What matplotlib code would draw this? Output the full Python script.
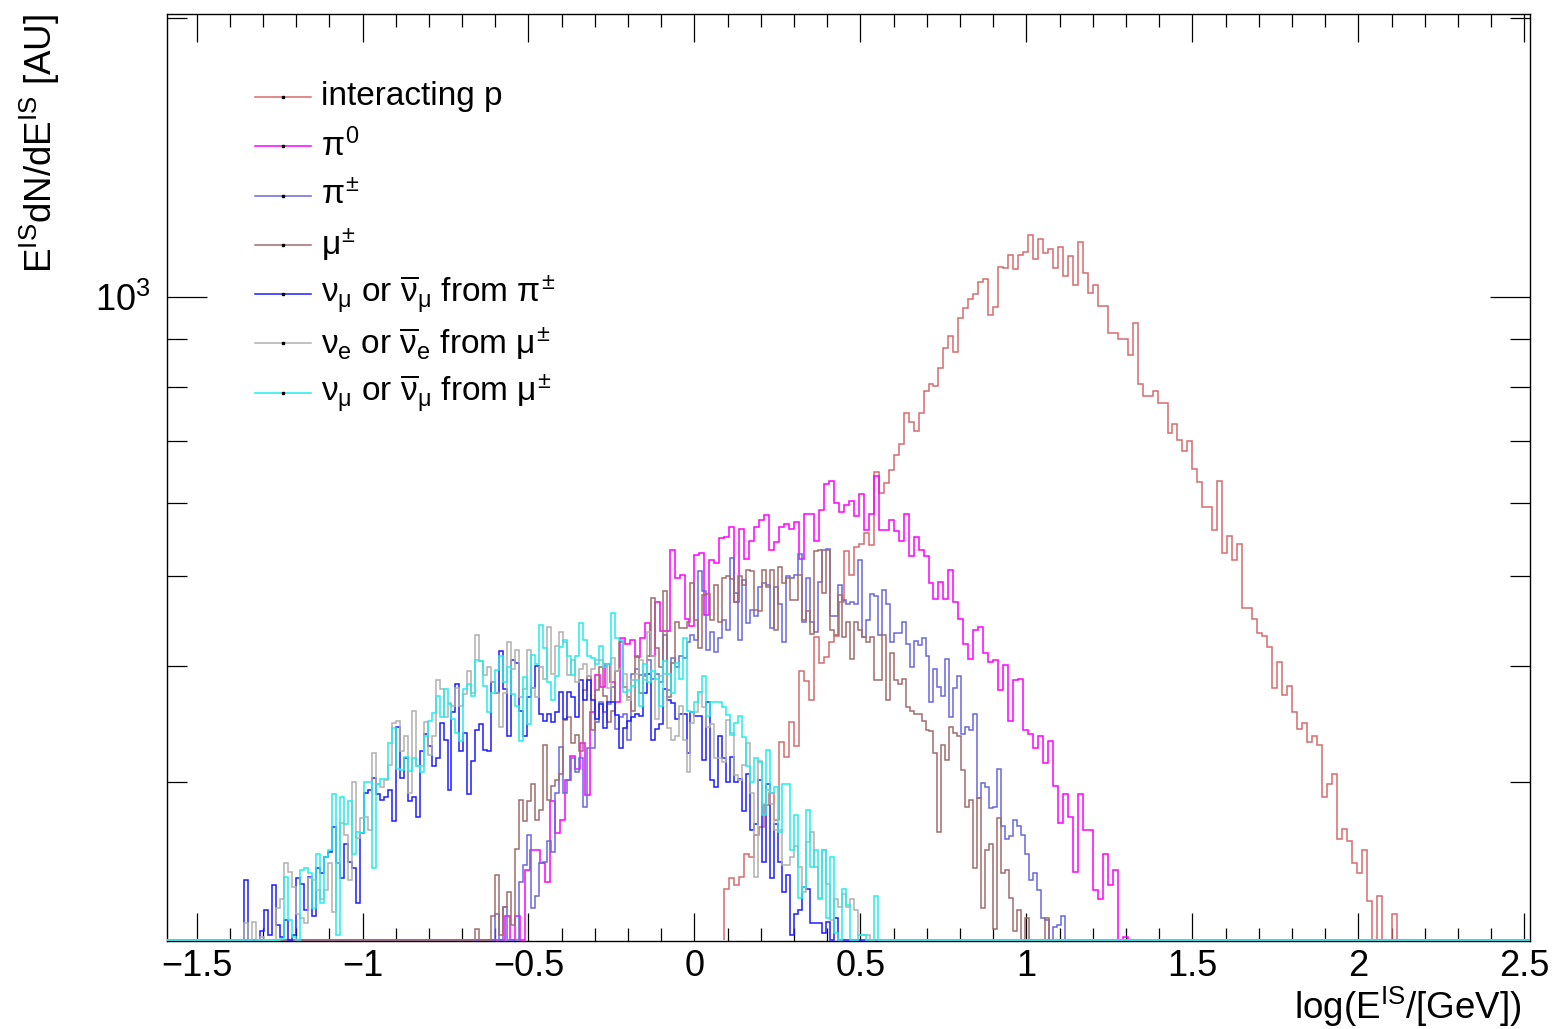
import numpy as np
import matplotlib.pyplot as plt
from matplotlib.ticker import MultipleLocator, LogLocator, NullFormatter, FuncFormatter
from matplotlib.lines import Line2D

plt.rcParams['font.family'] = ['Liberation Sans', 'DejaVu Sans']
plt.rcParams['mathtext.fontset'] = 'custom'
plt.rcParams['mathtext.rm'] = 'Liberation Sans'
plt.rcParams['mathtext.it'] = 'Liberation Sans'
plt.rcParams['mathtext.bf'] = 'Liberation Sans:bold'

# bin widths in log10(E/GeV)
w_wide = 0.015    # interacting p, pi0
w_narrow = 0.012  # pi+-, mu+- and neutrinos

# low edge of the first filled bin of each histogram
p_lo = 0.09
pi0_lo = -0.57
pic_lo = -0.60
mu_lo = -0.66
numu_pi_lo = -1.356
nue_lo = -1.356
numu_mu_lo = -1.248

p_vals = [230, 236, 232, 237, 251, 249, 263, 268, 283, 292, 273, 331, 319, 348, 328, 395, 385, 368,
          430, 403, 409, 425, 431, 469, 532, 502, 538, 542, 557, 540, 647, 615, 630, 650, 676, 694,
          750, 733, 717, 750, 792, 806, 802, 838, 881, 908, 873, 950, 973, 995, 1007, 1038, 1046, 956,
          975, 1078, 1075, 1110, 1072, 1110, 1118, 1166, 1099, 1155, 1116, 1127, 1075, 1132, 1054, 1107,
          1030, 1146, 1062, 1010, 1030, 978, 977, 914, 914, 900, 902, 865, 938, 806, 783, 783, 791, 768,
          768, 713, 729, 701, 683, 699, 653, 632, 593, 593, 561, 633, 530, 553, 521, 542, 462, 462, 450,
          434, 431, 419, 379, 404, 372, 381, 357, 342, 347, 331, 336, 329, 289, 298, 306, 260, 267, 259,
          245, 239, 253, 223, 0, 226, 0, 0, 216]

pi0_vals = [215, 0, 215, 0, 241, 253, 253, 245, 234, 286, 264, 273, 301, 320, 310, 330, 290, 357,
            391, 380, 402, 384, 366, 429, 422, 427, 409, 429, 445, 410, 469, 436, 436, 534, 498, 502,
            449, 442, 527, 529, 454, 521, 516, 549, 551, 565, 469, 562, 522, 546, 565, 575, 582, 534,
            544, 565, 569, 562, 572, 522, 584, 584, 546, 589, 629, 633, 600, 587, 596, 603, 580, 613,
            561, 583, 641, 560, 561, 575, 559, 545, 583, 525, 551, 534, 525, 491, 472, 493, 472, 508,
            469, 449, 422, 407, 437, 441, 413, 404, 406, 377, 401, 349, 386, 387, 341, 338, 326, 336,
            314, 332, 297, 271, 291, 275, 240, 291, 266, 266, 229, 224, 251, 232, 241, 0, 204]

pic_vals = [216, 0, 220, 0, 0, 0, 234, 244, 263, 219, 226, 245, 246, 259, 252, 292, 327, 292, 301,
            318, 307, 318, 282, 326, 326, 348, 366, 357, 364, 380, 342, 352, 355, 333, 392, 397, 391,
            392, 406, 387, 392, 384, 432, 377, 408, 399, 410, 408, 424, 432, 427, 506, 482, 416, 435,
            414, 429, 448, 437, 523, 480, 427, 495, 445, 460, 453, 487, 491, 489, 440, 487, 466, 424,
            500, 498, 502, 528, 446, 498, 446, 435, 493, 534, 535, 453, 453, 489, 471, 466, 469, 466,
            521, 430, 448, 478, 476, 432, 483, 466, 425, 434, 434, 446, 422, 399, 426, 421, 429, 410,
            366, 397, 380, 371, 407, 352, 379, 390, 338, 344, 341, 355, 288, 299, 296, 281, 282, 310,
            269, 260, 262, 273, 269, 263, 251, 235, 239, 229, 214, 213, 0, 209, 210, 215]

mu_vals = [208, 0, 0, 0, 215, 238, 205, 220, 228, 210, 254, 287, 272, 286, 298, 273, 280, 329, 287,
           297, 301, 306, 350, 352, 330, 337, 324, 377, 390, 341, 377, 399, 371, 348, 358, 395, 424,
           380, 370, 358, 410, 374, 390, 410, 474, 418, 399, 482, 370, 403, 446, 439, 440, 446, 491,
           448, 418, 477, 478, 448, 489, 446, 498, 500, 496, 469, 500, 489, 508, 506, 460, 458, 508,
           487, 508, 437, 512, 491, 498, 471, 471, 502, 448, 458, 433, 532, 534, 480, 534, 437, 432,
           477, 430, 446, 407, 446, 437, 430, 424, 430, 386, 386, 432, 368, 413, 386, 382, 387, 361,
           358, 355, 355, 349, 341, 340, 322, 265, 329, 317, 344, 339, 336, 309, 282, 287, 242, 288,
           219, 253, 257, 208, 274, 239, 241, 225, 207, 218, 0, 214, 0, 0, 0, 0, 214]

numu_pi_vals = [235, 0, 0, 0, 207, 218, 205, 232, 210, 204, 213, 0, 205, 236, 233, 218, 237, 215,
                242, 239, 249, 252, 268, 245, 236, 257, 246, 242, 222, 264, 292, 294, 303, 291, 287,
                289, 294, 272, 344, 303, 318, 286, 289, 275, 324, 338, 328, 312, 318, 347, 333, 294,
                357, 382, 324, 339, 291, 316, 341, 346, 325, 324, 384, 374, 415, 378, 336, 406, 403,
                358, 336, 370, 379, 400, 355, 349, 355, 348, 357, 375, 351, 375, 370, 352, 386, 368,
                386, 368, 351, 364, 343, 366, 366, 354, 326, 343, 349, 352, 355, 353, 374, 392, 333,
                342, 346, 378, 368, 365, 351, 355, 355, 322, 357, 353, 353, 317, 366, 301, 296, 336,
                318, 300, 319, 300, 302, 279, 306, 266, 270, 301, 246, 298, 236, 270, 246, 228, 238,
                205, 216, 218, 231, 230, 211, 211, 211, 206, 212, 0, 214]

nue_vals = [211, 0, 212, 0, 204, 0, 0, 0, 219, 224, 245, 240, 231, 216, 214, 211, 236, 235, 229,
            224, 229, 245, 217, 245, 271, 263, 235, 300, 261, 274, 275, 266, 322, 298, 296, 301, 313,
            347, 349, 324, 336, 292, 358, 312, 312, 348, 321, 336, 386, 378, 352, 365, 362, 379, 362,
            373, 395, 374, 432, 405, 391, 399, 384, 374, 344, 374, 424, 397, 416, 370, 378, 416, 379,
            370, 399, 387, 441, 392, 420, 435, 424, 391, 406, 384, 397, 402, 390, 397, 406, 406, 402,
            379, 408, 395, 397, 392, 368, 386, 392, 406, 386, 435, 410, 351, 390, 392, 343, 333, 336,
            362, 333, 307, 347, 357, 375, 361, 344, 346, 318, 318, 315, 350, 339, 305, 301, 313, 330,
            292, 237, 316, 284, 294, 284, 266, 266, 244, 244, 249, 256, 243, 228, 258, 265, 243, 225,
            253, 233, 213, 224, 220, 227, 220, 224, 218, 205, 205, 205]

numu_mu_vals = [203, 237, 213, 204, 0, 241, 242, 239, 219, 251, 222, 249, 253, 291, 205, 289, 270,
                286, 251, 265, 264, 300, 300, 242, 298, 302, 302, 330, 343, 310, 309, 319, 308, 318,
                312, 307, 336, 349, 356, 371, 352, 378, 364, 351, 339, 332, 378, 382, 371, 406, 405,
                381, 357, 374, 396, 410, 384, 399, 373, 362, 332, 389, 346, 411, 402, 443, 418, 384,
                368, 390, 419, 427, 410, 391, 410, 445, 427, 410, 408, 402, 420, 399, 402, 456, 429,
                427, 375, 377, 381, 386, 362, 402, 384, 395, 387, 362, 405, 392, 374, 403, 387, 429,
                358, 357, 366, 375, 390, 353, 366, 366, 366, 361, 354, 337, 347, 353, 335, 312, 300,
                318, 315, 276, 325, 292, 296, 265, 298, 298, 253, 276, 225, 231, 280, 243, 253, 224,
                253, 214, 249, 206, 0, 230, 221, 0, 0, 205, 205, 0, 0, 226]

labels = ['interacting p', r'$\pi^{0}$', r'$\pi^{\pm}$', r'$\mu^{\pm}$',
          r'$\nu_{\mu}$ or $\overline{\nu}_{\mu}$ from $\pi^{\pm}$',
          r'$\nu_{e}$ or $\overline{\nu}_{e}$ from $\mu^{\pm}$',
          r'$\nu_{\mu}$ or $\overline{\nu}_{\mu}$ from $\mu^{\pm}$']
colors = ['#d46c6c', '#ff00ff', '#6868e0', '#a06c6c', '#1c1cff', '#b0b0b0', '#22eeee']

xmin, xmax = -1.589, 2.517
ymin, ymax = 202, 2020

W, H = 1552, 1029
fig = plt.figure(figsize=(W / 100, H / 100), dpi=100)
ax = fig.add_axes([167 / W, 1 - 941 / H, (1530 - 167) / W, (941 - 14) / H])

# empty bins are drawn on the frame floor, like ROOT does
floor = ymin * 10 ** (1.0 / 927)


def draw_hist(lo, width, vals, color, pad_left=True):
    vals = np.asarray(vals, float)
    nl = int(np.ceil((lo - xmin) / width)) + 1 if pad_left else 0
    nr = int(np.ceil((xmax - (lo + width * len(vals))) / width)) + 1
    full = np.concatenate([np.zeros(nl), vals, np.zeros(nr)])
    edges = lo - nl * width + width * np.arange(len(full) + 1)
    # with no left padding, close the first bin down to the floor
    ax.stairs(np.maximum(full, floor), edges, baseline=None if pad_left else floor,
              color=color, lw=1.1, zorder=3)


series = [(p_lo, w_wide, p_vals), (pi0_lo, w_wide, pi0_vals), (pic_lo, w_narrow, pic_vals),
          (mu_lo, w_narrow, mu_vals), (numu_pi_lo, w_narrow, numu_pi_vals),
          (nue_lo, w_narrow, nue_vals), (numu_mu_lo, w_narrow, numu_mu_vals)]
for i, ((lo, w, v), c) in enumerate(zip(series, colors)):
    draw_hist(lo, w, v, c, pad_left=(i > 0))

ax.set_xlim(xmin, xmax)
ax.set_yscale('log')
ax.set_ylim(ymin, ymax)

ax.xaxis.set_major_locator(MultipleLocator(0.5))
ax.xaxis.set_minor_locator(MultipleLocator(0.1))
ax.xaxis.set_major_formatter(FuncFormatter(lambda v, p: ('%g' % (round(v, 3) + 0.0)).replace('-', '\u2212')))
ax.yaxis.set_major_locator(LogLocator(base=10))
ax.yaxis.set_minor_locator(LogLocator(base=10, subs=np.arange(2, 10)))
ax.yaxis.set_minor_formatter(NullFormatter())

ax.tick_params(which='both', direction='in', top=True, right=True, width=0.9, labelsize=26)
ax.tick_params(axis='x', which='major', length=20, pad=6)
ax.tick_params(axis='x', which='minor', length=9.5)
ax.tick_params(axis='y', which='major', length=29, pad=12)
ax.tick_params(axis='y', which='minor', length=14.5)
for s in ax.spines.values():
    s.set_linewidth(1.0)

fig.text(1522 / W, 1 - 1019 / H, r'log(E$^{IS}$/[GeV])', ha='right', va='baseline', fontsize=26.5)
fig.text(40 / W, 1 - 14 / H, r'E$^{IS}$dN/dE$^{IS}$ [AU]', ha='center', va='top',
         rotation=90, fontsize=26.5)

# legend, no frame
for i, (lab, c) in enumerate(zip(labels, colors)):
    yc = 1 - (97 + 49.3 * i) / H
    fig.add_artist(Line2D([255 / W, 311 / W], [yc, yc], color=c, lw=1.1))
    fig.add_artist(Line2D([283 / W], [yc], marker='s', markersize=1.5, color='black'))
    fig.text(321 / W, yc, lab, ha='left', va='center', fontsize=24)

fig.savefig('out.png', dpi=100)
